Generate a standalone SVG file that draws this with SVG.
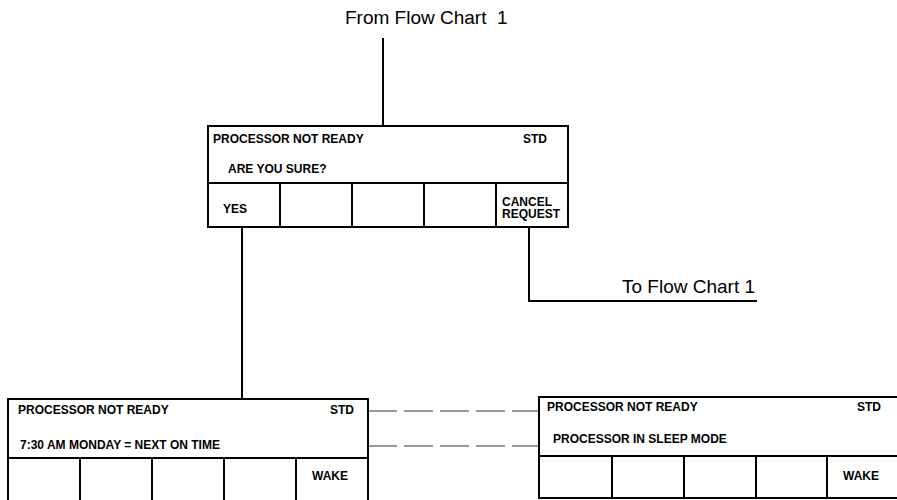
<svg xmlns="http://www.w3.org/2000/svg" width="897" height="500" viewBox="0 0 897 500">
<style>
.box{fill:#fff;stroke:#000;stroke-width:2}
.div{stroke:#000;stroke-width:2}
.b{font-family:"Liberation Sans",Arial,sans-serif;font-weight:bold;font-size:12px;fill:#000}
.lbl{font-family:"Liberation Sans",Arial,sans-serif;font-size:19px;fill:#000}
.conn{fill:none;stroke:#000;stroke-width:2}
.dash{fill:none;stroke:#777;stroke-width:1.5;stroke-dasharray:29 7}
</style>
<rect width="897" height="500" fill="#fff"/>
<g id="connectors">
<line class="conn" x1="383" y1="38" x2="383" y2="126"/>
<line class="conn" x1="242" y1="227" x2="242" y2="399"/>
<polyline class="conn" points="529,227 529,301 757,301"/>
<line class="dash" x1="368" y1="411" x2="539" y2="411"/>
<line class="dash" x1="368" y1="446" x2="539" y2="446"/>
</g>
<g id="labels">
<text class="lbl" x="345" y="24" xml:space="preserve">From Flow Chart  1</text>
<text class="lbl" x="622" y="293">To Flow Chart 1</text>
</g>
<g id="screen-confirm">
<rect class="box" x="208" y="126" width="360" height="101"/>
<line class="div" x1="208" y1="183" x2="568" y2="183"/>
<line class="div" x1="280" y1="183" x2="280" y2="227"/>
<line class="div" x1="352" y1="183" x2="352" y2="227"/>
<line class="div" x1="424" y1="183" x2="424" y2="227"/>
<line class="div" x1="496" y1="183" x2="496" y2="227"/>
<text class="b" x="213" y="143">PROCESSOR NOT READY</text>
<text class="b" x="523" y="143">STD</text>
<text class="b" x="228" y="173">ARE YOU SURE?</text>
<text class="b" x="223" y="213">YES</text>
<text class="b" x="502" y="205.5">CANCEL</text>
<text class="b" x="502" y="218">REQUEST</text>
</g>
<g id="screen-next-on">
<rect class="box" x="8" y="399" width="360" height="103"/>
<line class="div" x1="8" y1="458" x2="368" y2="458"/>
<line class="div" x1="80" y1="458" x2="80" y2="502"/>
<line class="div" x1="152" y1="458" x2="152" y2="502"/>
<line class="div" x1="224" y1="458" x2="224" y2="502"/>
<line class="div" x1="296" y1="458" x2="296" y2="502"/>
<text class="b" x="18" y="414">PROCESSOR NOT READY</text>
<text class="b" x="330" y="414">STD</text>
<text class="b" x="20" y="449">7:30 AM MONDAY = NEXT ON TIME</text>
<text class="b" x="312" y="480">WAKE</text>
</g>
<g id="screen-sleep">
<rect class="box" x="539" y="397" width="362" height="101"/>
<line class="div" x1="539" y1="456" x2="901" y2="456"/>
<line class="div" x1="612" y1="456" x2="612" y2="498"/>
<line class="div" x1="684" y1="456" x2="684" y2="498"/>
<line class="div" x1="756" y1="456" x2="756" y2="498"/>
<line class="div" x1="827" y1="456" x2="827" y2="498"/>
<text class="b" x="547" y="411">PROCESSOR NOT READY</text>
<text class="b" x="857" y="411">STD</text>
<text class="b" x="553" y="443">PROCESSOR IN SLEEP MODE</text>
<text class="b" x="843" y="480">WAKE</text>
</g>
</svg>
